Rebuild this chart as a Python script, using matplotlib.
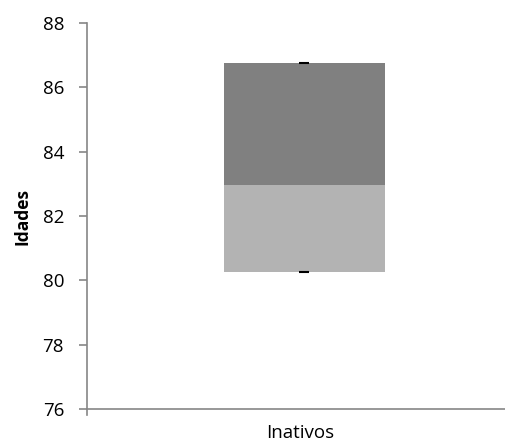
import matplotlib
matplotlib.use("Agg")
import matplotlib.pyplot as plt

categories = ["Inativos"]
min_vals = [80.25]
q1_vals = [80.25]
median_vals = [82.97]
q3_vals = [86.76]
max_vals = [86.76]
y_ticks = [76, 78, 80, 82, 84, 86, 88]

plt.rcParams['font.family'] = ['Open Sans', 'DejaVu Sans']

fig = plt.figure(figsize=(5.06, 4.44), dpi=100)
ax = fig.add_axes([87/506, 35/444, 418/506, 386/444])

xpos = [0.52]
width = 0.384
lower_h = [m - q for m, q in zip(median_vals, q1_vals)]
upper_h = [q - m for q, m in zip(q3_vals, median_vals)]
ax.bar(xpos, lower_h, width=width, bottom=q1_vals, color="#b3b3b3", zorder=2)
ax.bar(xpos, upper_h, width=width, bottom=median_vals, color="#808080", zorder=2)
for x, lo, hi in zip(xpos, min_vals, max_vals):
    ax.hlines([lo, hi], x - 0.012, x + 0.012, colors="black", linewidth=1.5, zorder=3)

ax.set_xlim(0, 1)
ax.set_ylim(76, 88)
ax.set_yticks(y_ticks)
ax.set_yticklabels([str(t) for t in y_ticks], fontsize=13.5)
ax.set_xticks([0.51])
ax.set_xticklabels(categories, fontsize=13.5)
ax.tick_params(axis='x', length=0, pad=11)
ax.tick_params(axis='y', length=5.5, color="#868686", width=1.2, pad=11)
ax.set_ylabel("Idades", fontsize=12.5, fontweight="bold", labelpad=8)

for s in ["top", "right"]:
    ax.spines[s].set_visible(False)
for s in ["left", "bottom"]:
    ax.spines[s].set_color("#868686")
    ax.spines[s].set_linewidth(1.2)
ax.spines["left"].set_bounds(75.8, 88)
ax.set_ylim(76, 88)
ax.spines["left"].set_clip_on(False)

fig.savefig("out.png", dpi=100)
